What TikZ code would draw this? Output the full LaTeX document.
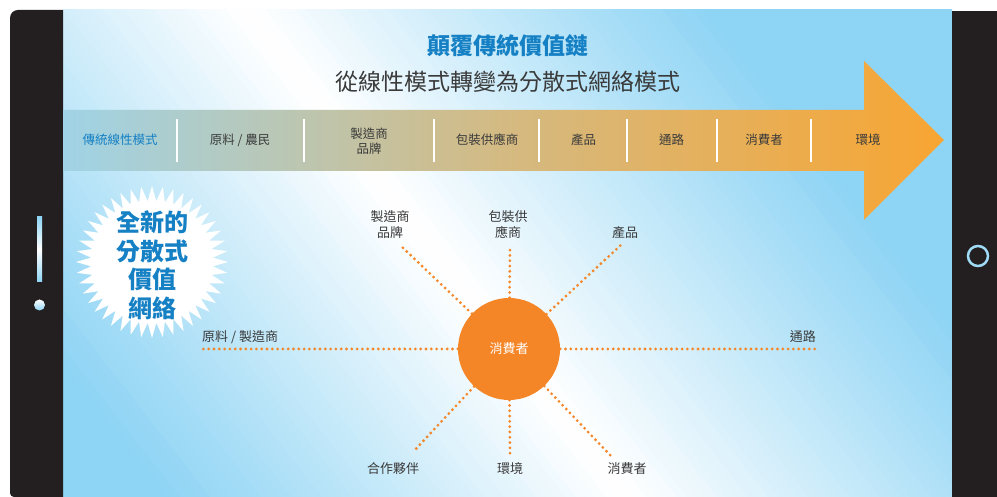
\documentclass[tikz,border=0pt]{standalone}
\usepackage{fontspec}
\setmainfont{Noto Sans CJK TC}
\usetikzlibrary{calc}
\definecolor{bgblue}{RGB}{142,212,244}
\definecolor{ttlblue}{RGB}{21,128,196}
\definecolor{txtgray}{RGB}{58,58,58}
\definecolor{orng}{RGB}{245,134,40}
\definecolor{frameblk}{RGB}{35,31,32}
\definecolor{bandl}{RGB}{160,211,230}
\definecolor{bandm}{RGB}{212,186,130}
\definecolor{bandr}{RGB}{248,165,50}
\begin{document}
\begin{tikzpicture}[x=1pt,y=1pt,
  lbl/.style={font=\fontsize{13}{16}\selectfont, text=txtgray, align=center, inner sep=0pt},
  bandlbl/.style={font=\fontsize{12.5}{15}\selectfont, text=txtgray, align=center, inner sep=0pt},
  sepline/.style={white, line width=2.5pt},
  spoke/.style={orng, line width=3.1pt, line cap=round, dash pattern=on 0pt off 5.3pt},
]
\useasboundingbox (0,0) rectangle (997,497);
\fill[white] (0,0) rectangle (997,497);
% screen background
\begin{scope}
\clip (63,0) rectangle (952,487);
\foreach \d in {-560,-552,...,680} {
  \pgfmathtruncatemacro\p{min(abs(\d+4)/360,1)*100}
  \fill[bgblue!\p!white, shift={(436,244)}, rotate=38] (\d,-900) rectangle (\d+8.8,900);
}
\end{scope}
% tablet frame
\fill[frameblk] (63,0) -- (14,0) arc[start angle=270, end angle=180, radius=4] -- (10,479) arc[start angle=180, end angle=90, radius=8] -- (63,487) -- cycle;
\fill[frameblk] (952,0) rectangle (997,486);
\shade[top color=bgblue, bottom color=bgblue, middle color=white] (37,215) rectangle (42,280);
\shade[top color=white, bottom color=bgblue] (39.5,192) circle (5.5);
\draw[bgblue!85!white, line width=2.5pt] (978,241) circle (10);
% titles
\node[font=\fontsize{23}{26}\selectfont\bfseries, text=ttlblue] (title) at (508,451) {顛覆傳統價值鏈};
\node[font=\fontsize{23}{26}\selectfont, text=txtgray] (subtitle) at (507.5,415) {從線性模式轉變為分散式網絡模式};
% arrow band
\shade[left color=bandl, right color=bandr, middle color=bandm] (63,387) -- (864,387) -- (864,436) -- (944,357) -- (864,277) -- (864,326) -- (63,326) -- cycle;
\foreach \x in {177,304,434,539,627,717,811} \draw[sepline] (\x,335) -- (\x,378);
\node[bandlbl, text=ttlblue] (b0) at (120,357) {傳統線性模式};
\node[bandlbl] (b1) at (240,357) {原料 / 農民};
\node[bandlbl] (b2) at (369,356) {製造商\\品牌};
\node[bandlbl] (b3) at (487,357) {包裝供應商};
\node[bandlbl] (b4) at (583.5,357) {產品};
\node[bandlbl] (b5) at (671.5,357) {通路};
\node[bandlbl] (b6) at (764,357) {消費者};
\node[bandlbl] (b7) at (868,357) {環境};
% starburst
\fill[white, shift={(152,235)}] (0:76) \foreach \i in {1,...,87} { -- ({\i*4.0909}:{76-15*mod(\i,2)}) } -- cycle;
\node[font=\fontsize{24}{28.5}\selectfont\bfseries, text=ttlblue, align=center, inner sep=0pt] (burst) at (152,231.5) {全新的\\分散式\\價值\\網絡};
% network
\node[circle, fill=orng, minimum size=102pt, inner sep=0pt, text=white, font=\fontsize{13}{15}\selectfont] (c) at (509,148) {消費者};
\coordinate (eul) at (401,251);
\coordinate (eup) at (510,250);
\coordinate (eur) at (622,253);
\coordinate (el) at (203,148);
\coordinate (er) at (815,148);
\coordinate (ell) at (413,45);
\coordinate (edn) at (510,43);
\coordinate (elr) at (611,41);
\foreach \e in {eul,eup,eur,el,er,ell,edn,elr} \draw[spoke] (c) -- (\e);
\node[lbl] (l1) at (390,272) {製造商\\品牌};
\node[lbl] (l2) at (508,272) {包裝供\\應商};
\node[lbl] (l3) at (625,264) {產品};
\node[lbl, anchor=west] (l4) at (202,160) {原料 / 製造商};
\node[lbl, anchor=east] (l5) at (816,160) {通路};
\node[lbl] (l6) at (393,28) {合作夥伴};
\node[lbl] (l7) at (510,28) {環境};
\node[lbl] (l8) at (627,28) {消費者};
\end{tikzpicture}
\end{document}
